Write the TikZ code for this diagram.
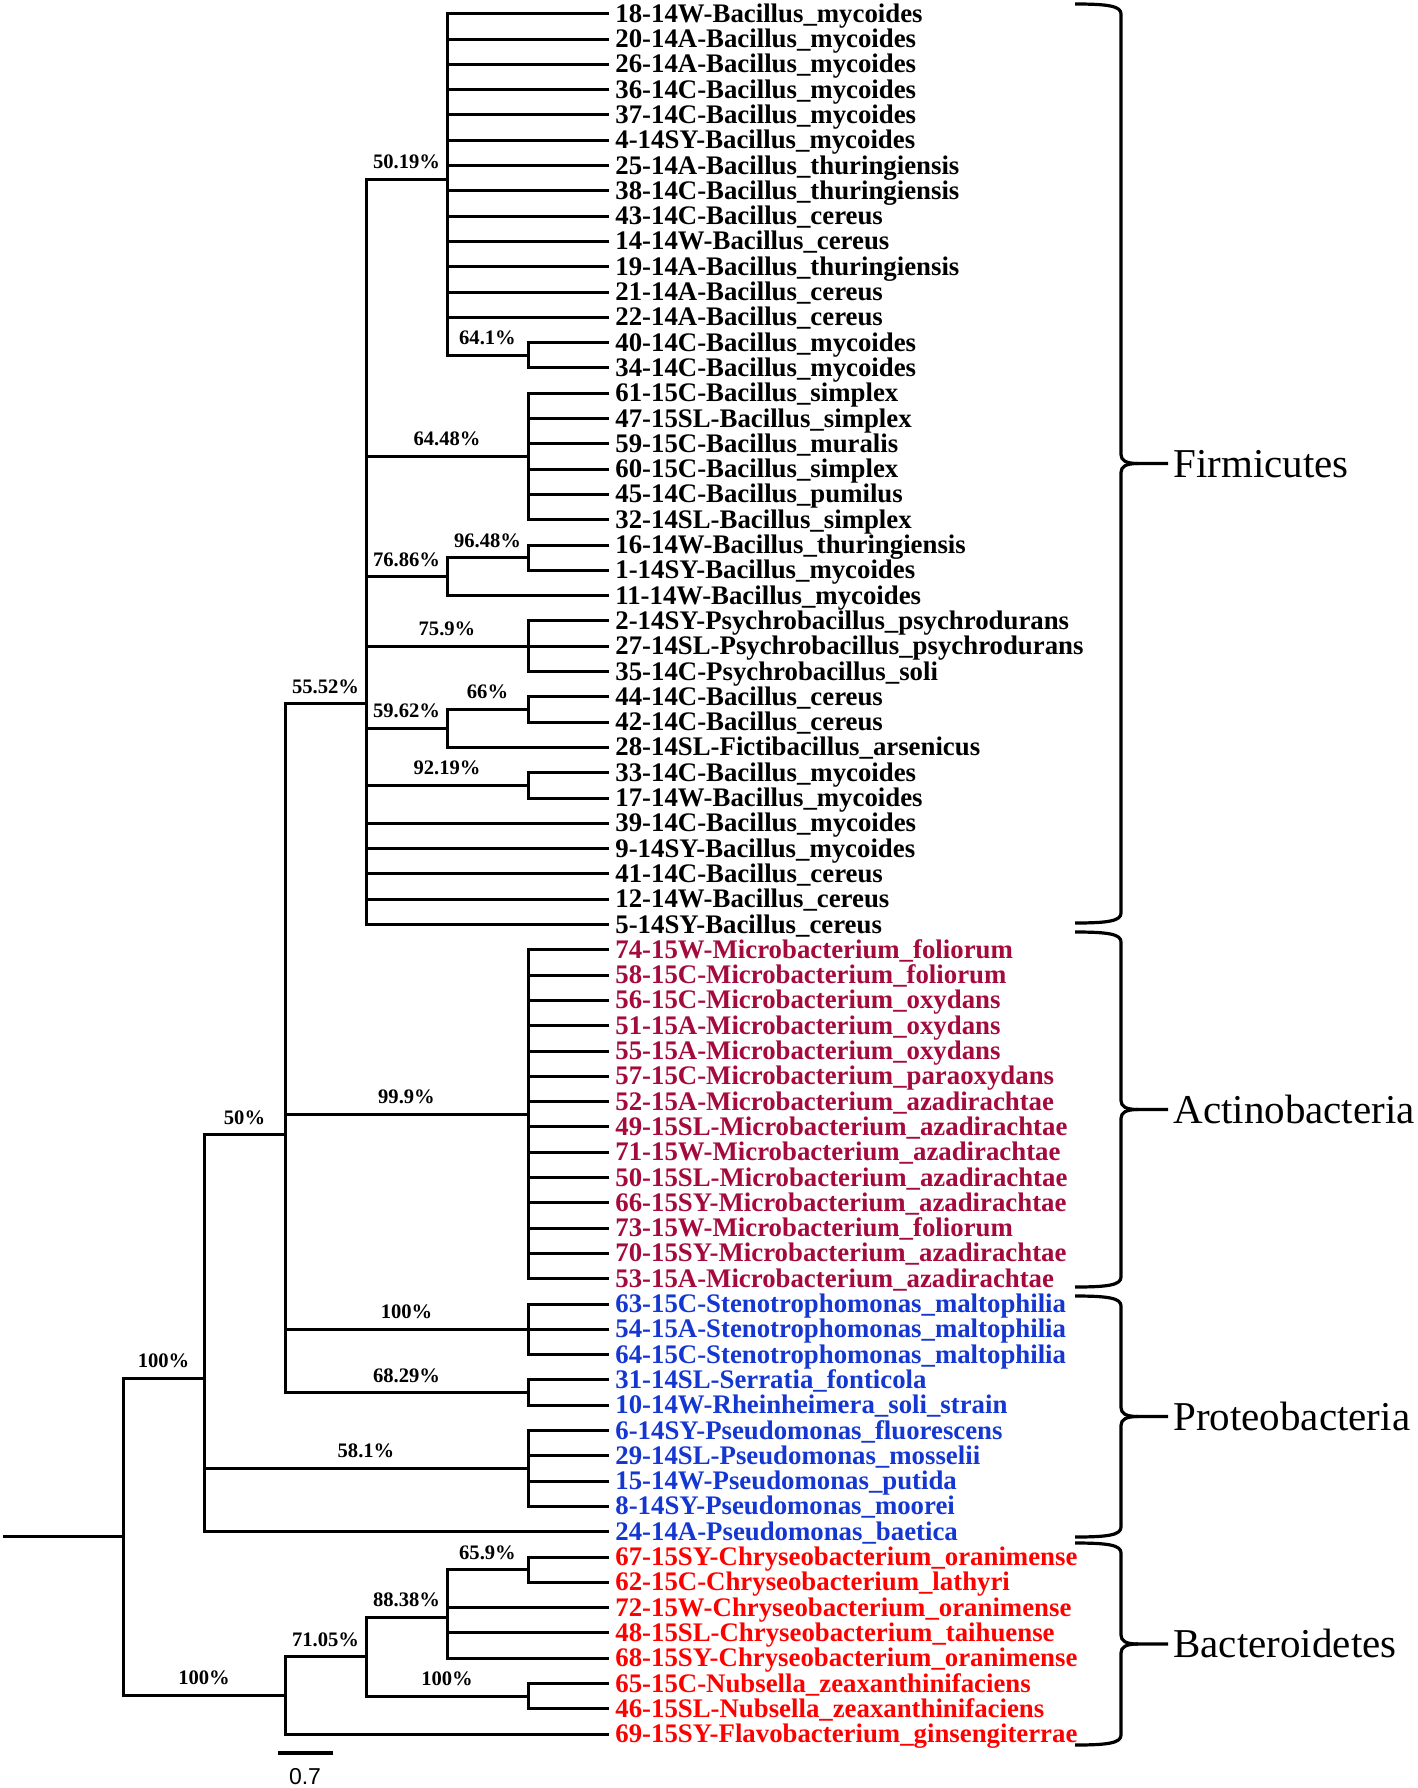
\documentclass[tikz,border=0pt]{standalone}
\usepackage{fontspec}
\setmainfont{Liberation Serif}
\newfontfamily\barfont{Liberation Sans}
\definecolor{actino}{RGB}{165,10,60}
\definecolor{proteo}{RGB}{20,55,210}
\definecolor{bactero}{RGB}{255,0,0}
\newcommand\ry[1]{(13.7+25.3*(#1-1))}
\newcommand\leaf[3]{%
  \coordinate (l#1) at (609,{\ry{#1}});
  \node[leafname,text=#3] (t#1) at (615,{\ry{#1}+8.5}) {#2};}
\newcommand\supp[4]{\node[supptext] (#1) at (#2,{\ry{#3}-10.5}) {#4};}
\newcommand\cladebrace[2]{%
  \pgfmathsetmacro\bt{#1}\pgfmathsetmacro\bb{#2}\pgfmathsetmacro\bm{(#1+#2)/2}%
  \draw[bracestroke] (1075,\bt) .. controls (1108,\bt) and (1121,\bt+2) .. (1121,\bt+10)
     -- (1121,\bm-9) .. controls (1121,\bm-3) and (1126,\bm) .. (1138,\bm) -- (1168,\bm);
  \draw[bracestroke] (1075,\bb) .. controls (1108,\bb) and (1121,\bb-2) .. (1121,\bb-10)
     -- (1121,\bm+9) .. controls (1121,\bm+3) and (1126,\bm) .. (1138,\bm);}
\begin{document}
\begin{tikzpicture}[x=0.5pt,y=-0.5pt,
  branch/.style={draw=black,line width=1.5pt},
  bracestroke/.style={draw=black,line width=1.6pt},
  leafname/.style={anchor=base west,inner sep=0pt,font=\bfseries\fontsize{13.4}{15}\selectfont},
  supptext/.style={anchor=base,inner sep=0pt,font=\bfseries\fontsize{10.3}{12}\selectfont},
  cladename/.style={anchor=base west,inner sep=0pt,font=\fontsize{20.5}{24}\selectfont}]
\fill[white] (0,0) rectangle (1418,1788);
\useasboundingbox (0,0) rectangle (1418,1788);

% ---------- leaves ----------
\leaf{1}{18-14W-Bacillus\_mycoides}{black}
\leaf{2}{20-14A-Bacillus\_mycoides}{black}
\leaf{3}{26-14A-Bacillus\_mycoides}{black}
\leaf{4}{36-14C-Bacillus\_mycoides}{black}
\leaf{5}{37-14C-Bacillus\_mycoides}{black}
\leaf{6}{4-14SY-Bacillus\_mycoides}{black}
\leaf{7}{25-14A-Bacillus\_thuringiensis}{black}
\leaf{8}{38-14C-Bacillus\_thuringiensis}{black}
\leaf{9}{43-14C-Bacillus\_cereus}{black}
\leaf{10}{14-14W-Bacillus\_cereus}{black}
\leaf{11}{19-14A-Bacillus\_thuringiensis}{black}
\leaf{12}{21-14A-Bacillus\_cereus}{black}
\leaf{13}{22-14A-Bacillus\_cereus}{black}
\leaf{14}{40-14C-Bacillus\_mycoides}{black}
\leaf{15}{34-14C-Bacillus\_mycoides}{black}
\leaf{16}{61-15C-Bacillus\_simplex}{black}
\leaf{17}{47-15SL-Bacillus\_simplex}{black}
\leaf{18}{59-15C-Bacillus\_muralis}{black}
\leaf{19}{60-15C-Bacillus\_simplex}{black}
\leaf{20}{45-14C-Bacillus\_pumilus}{black}
\leaf{21}{32-14SL-Bacillus\_simplex}{black}
\leaf{22}{16-14W-Bacillus\_thuringiensis}{black}
\leaf{23}{1-14SY-Bacillus\_mycoides}{black}
\leaf{24}{11-14W-Bacillus\_mycoides}{black}
\leaf{25}{2-14SY-Psychrobacillus\_psychrodurans}{black}
\leaf{26}{27-14SL-Psychrobacillus\_psychrodurans}{black}
\leaf{27}{35-14C-Psychrobacillus\_soli}{black}
\leaf{28}{44-14C-Bacillus\_cereus}{black}
\leaf{29}{42-14C-Bacillus\_cereus}{black}
\leaf{30}{28-14SL-Fictibacillus\_arsenicus}{black}
\leaf{31}{33-14C-Bacillus\_mycoides}{black}
\leaf{32}{17-14W-Bacillus\_mycoides}{black}
\leaf{33}{39-14C-Bacillus\_mycoides}{black}
\leaf{34}{9-14SY-Bacillus\_mycoides}{black}
\leaf{35}{41-14C-Bacillus\_cereus}{black}
\leaf{36}{12-14W-Bacillus\_cereus}{black}
\leaf{37}{5-14SY-Bacillus\_cereus}{black}
\leaf{38}{74-15W-Microbacterium\_foliorum}{actino}
\leaf{39}{58-15C-Microbacterium\_foliorum}{actino}
\leaf{40}{56-15C-Microbacterium\_oxydans}{actino}
\leaf{41}{51-15A-Microbacterium\_oxydans}{actino}
\leaf{42}{55-15A-Microbacterium\_oxydans}{actino}
\leaf{43}{57-15C-Microbacterium\_paraoxydans}{actino}
\leaf{44}{52-15A-Microbacterium\_azadirachtae}{actino}
\leaf{45}{49-15SL-Microbacterium\_azadirachtae}{actino}
\leaf{46}{71-15W-Microbacterium\_azadirachtae}{actino}
\leaf{47}{50-15SL-Microbacterium\_azadirachtae}{actino}
\leaf{48}{66-15SY-Microbacterium\_azadirachtae}{actino}
\leaf{49}{73-15W-Microbacterium\_foliorum}{actino}
\leaf{50}{70-15SY-Microbacterium\_azadirachtae}{actino}
\leaf{51}{53-15A-Microbacterium\_azadirachtae}{actino}
\leaf{52}{63-15C-Stenotrophomonas\_maltophilia}{proteo}
\leaf{53}{54-15A-Stenotrophomonas\_maltophilia}{proteo}
\leaf{54}{64-15C-Stenotrophomonas\_maltophilia}{proteo}
\leaf{55}{31-14SL-Serratia\_fonticola}{proteo}
\leaf{56}{10-14W-Rheinheimera\_soli\_strain}{proteo}
\leaf{57}{6-14SY-Pseudomonas\_fluorescens}{proteo}
\leaf{58}{29-14SL-Pseudomonas\_mosselii}{proteo}
\leaf{59}{15-14W-Pseudomonas\_putida}{proteo}
\leaf{60}{8-14SY-Pseudomonas\_moorei}{proteo}
\leaf{61}{24-14A-Pseudomonas\_baetica}{proteo}
\leaf{62}{67-15SY-Chryseobacterium\_oranimense}{bactero}
\leaf{63}{62-15C-Chryseobacterium\_lathyri}{bactero}
\leaf{64}{72-15W-Chryseobacterium\_oranimense}{bactero}
\leaf{65}{48-15SL-Chryseobacterium\_taihuense}{bactero}
\leaf{66}{68-15SY-Chryseobacterium\_oranimense}{bactero}
\leaf{67}{65-15C-Nubsella\_zeaxanthinifaciens}{bactero}
\leaf{68}{46-15SL-Nubsella\_zeaxanthinifaciens}{bactero}
\leaf{69}{69-15SY-Flavobacterium\_ginsengiterrae}{bactero}

% ---------- internal nodes ----------
\coordinate (s0)  at (3,{\ry{61.204205}});
\coordinate (nR)  at (123,{\ry{61.204205}});
\coordinate (nU)  at (204,{\ry{54.93966}});
\coordinate (nL)  at (285,{\ry{67.46875}});
\coordinate (nF50) at (285,{\ry{45.31899}});
\coordinate (nPs) at (528,{\ry{58.5}});
\coordinate (nFi) at (366,{\ry{28.27597}});
\coordinate (nAc) at (528,{\ry{44.5}});
\coordinate (nSt) at (528,{\ry{53}});
\coordinate (nSe) at (528,{\ry{55.5}});
\coordinate (nB1) at (447,{\ry{7.535714}});
\coordinate (nB2) at (528,{\ry{14.5}});
\coordinate (nB3) at (528,{\ry{18.5}});
\coordinate (nB4) at (447,{\ry{23.25}});
\coordinate (nB5) at (528,{\ry{22.5}});
\coordinate (nB6) at (528,{\ry{26}});
\coordinate (nB7) at (447,{\ry{29.25}});
\coordinate (nB8) at (528,{\ry{28.5}});
\coordinate (nB9) at (528,{\ry{31.5}});
\coordinate (nC1) at (366,{\ry{65.9375}});
\coordinate (nC2) at (447,{\ry{64.375}});
\coordinate (nC3) at (528,{\ry{62.5}});
\coordinate (nC4) at (528,{\ry{67.5}});

% ---------- branches ----------
\draw[branch] (s0) -- (nR);
\foreach \c in {nU,nL} \draw[branch] (nR) |- (\c);
\foreach \c in {nF50,nPs,l61} \draw[branch] (nU) |- (\c);
\foreach \c in {nFi,nAc,nSt,nSe} \draw[branch] (nF50) |- (\c);
\foreach \c in {nB1,nB3,nB4,nB6,nB7,nB9,l33,l34,l35,l36,l37} \draw[branch] (nFi) |- (\c);
\foreach \i in {1,...,13} \draw[branch] (nB1) |- (l\i);
\draw[branch] (nB1) |- (nB2);
\foreach \i in {14,15} \draw[branch] (nB2) |- (l\i);
\foreach \i in {16,...,21} \draw[branch] (nB3) |- (l\i);
\foreach \c in {nB5,l24} \draw[branch] (nB4) |- (\c);
\foreach \i in {22,23} \draw[branch] (nB5) |- (l\i);
\foreach \i in {25,26,27} \draw[branch] (nB6) |- (l\i);
\foreach \c in {nB8,l30} \draw[branch] (nB7) |- (\c);
\foreach \i in {28,29} \draw[branch] (nB8) |- (l\i);
\foreach \i in {31,32} \draw[branch] (nB9) |- (l\i);
\foreach \i in {38,...,51} \draw[branch] (nAc) |- (l\i);
\foreach \i in {52,53,54} \draw[branch] (nSt) |- (l\i);
\foreach \i in {55,56} \draw[branch] (nSe) |- (l\i);
\foreach \i in {57,...,60} \draw[branch] (nPs) |- (l\i);
\foreach \c in {nC1,l69} \draw[branch] (nL) |- (\c);
\foreach \c in {nC2,nC4} \draw[branch] (nC1) |- (\c);
\foreach \c in {nC3,l64,l65,l66} \draw[branch] (nC2) |- (\c);
\foreach \i in {62,63} \draw[branch] (nC3) |- (l\i);
\foreach \i in {67,68} \draw[branch] (nC4) |- (l\i);

% ---------- support values ----------
\supp{sB1}{406.5}{7.535714}{50.19\%}
\supp{sB2}{487.5}{14.5}{64.1\%}
\supp{sB3}{447}{18.5}{64.48\%}
\supp{sB5}{487.5}{22.5}{96.48\%}
\supp{sB4}{406.5}{23.25}{76.86\%}
\supp{sB6}{447}{26}{75.9\%}
\supp{sFi}{325.5}{28.27597}{55.52\%}
\supp{sB8}{487.5}{28.5}{66\%}
\supp{sB7}{406.5}{29.25}{59.62\%}
\supp{sB9}{447}{31.5}{92.19\%}
\supp{sAc}{406.5}{44.5}{99.9\%}
\supp{sF50}{244.5}{45.31899}{50\%}
\supp{sSt}{406.5}{53}{100\%}
\supp{sSe}{406.5}{55.5}{68.29\%}
\supp{sU}{163.5}{54.93966}{100\%}
\supp{sPs}{366}{58.5}{58.1\%}
\supp{sC3}{487.5}{62.5}{65.9\%}
\supp{sC2}{406.5}{64.375}{88.38\%}
\supp{sC1}{325.5}{65.9375}{71.05\%}
\supp{sC4}{447}{67.5}{100\%}
\supp{sL}{204}{67.46875}{100\%}

% ---------- clade braces ----------
\cladebrace{4}{923}
\cladebrace{932}{1287}
\cladebrace{1296}{1537}
\cladebrace{1543}{1745}
\node[cladename] (firm) at (1173,477) {Firmicutes};
\node[cladename] (acti) at (1173,1123) {Actinobacteria};
\node[cladename] (prot) at (1173,1430) {Proteobacteria};
\node[cladename] (bact) at (1173,1657.5) {Bacteroidetes};

% ---------- scale bar ----------
\coordinate (sbL) at (278,1753);
\coordinate (sbR) at (333,1753);
\draw[line width=2.4pt] (sbL) -- (sbR);
\node[anchor=base,inner sep=0pt,font=\barfont\fontsize{11.5}{13}\selectfont] (sbtext) at (305,1784) {0.7};
\end{tikzpicture}
\end{document}
